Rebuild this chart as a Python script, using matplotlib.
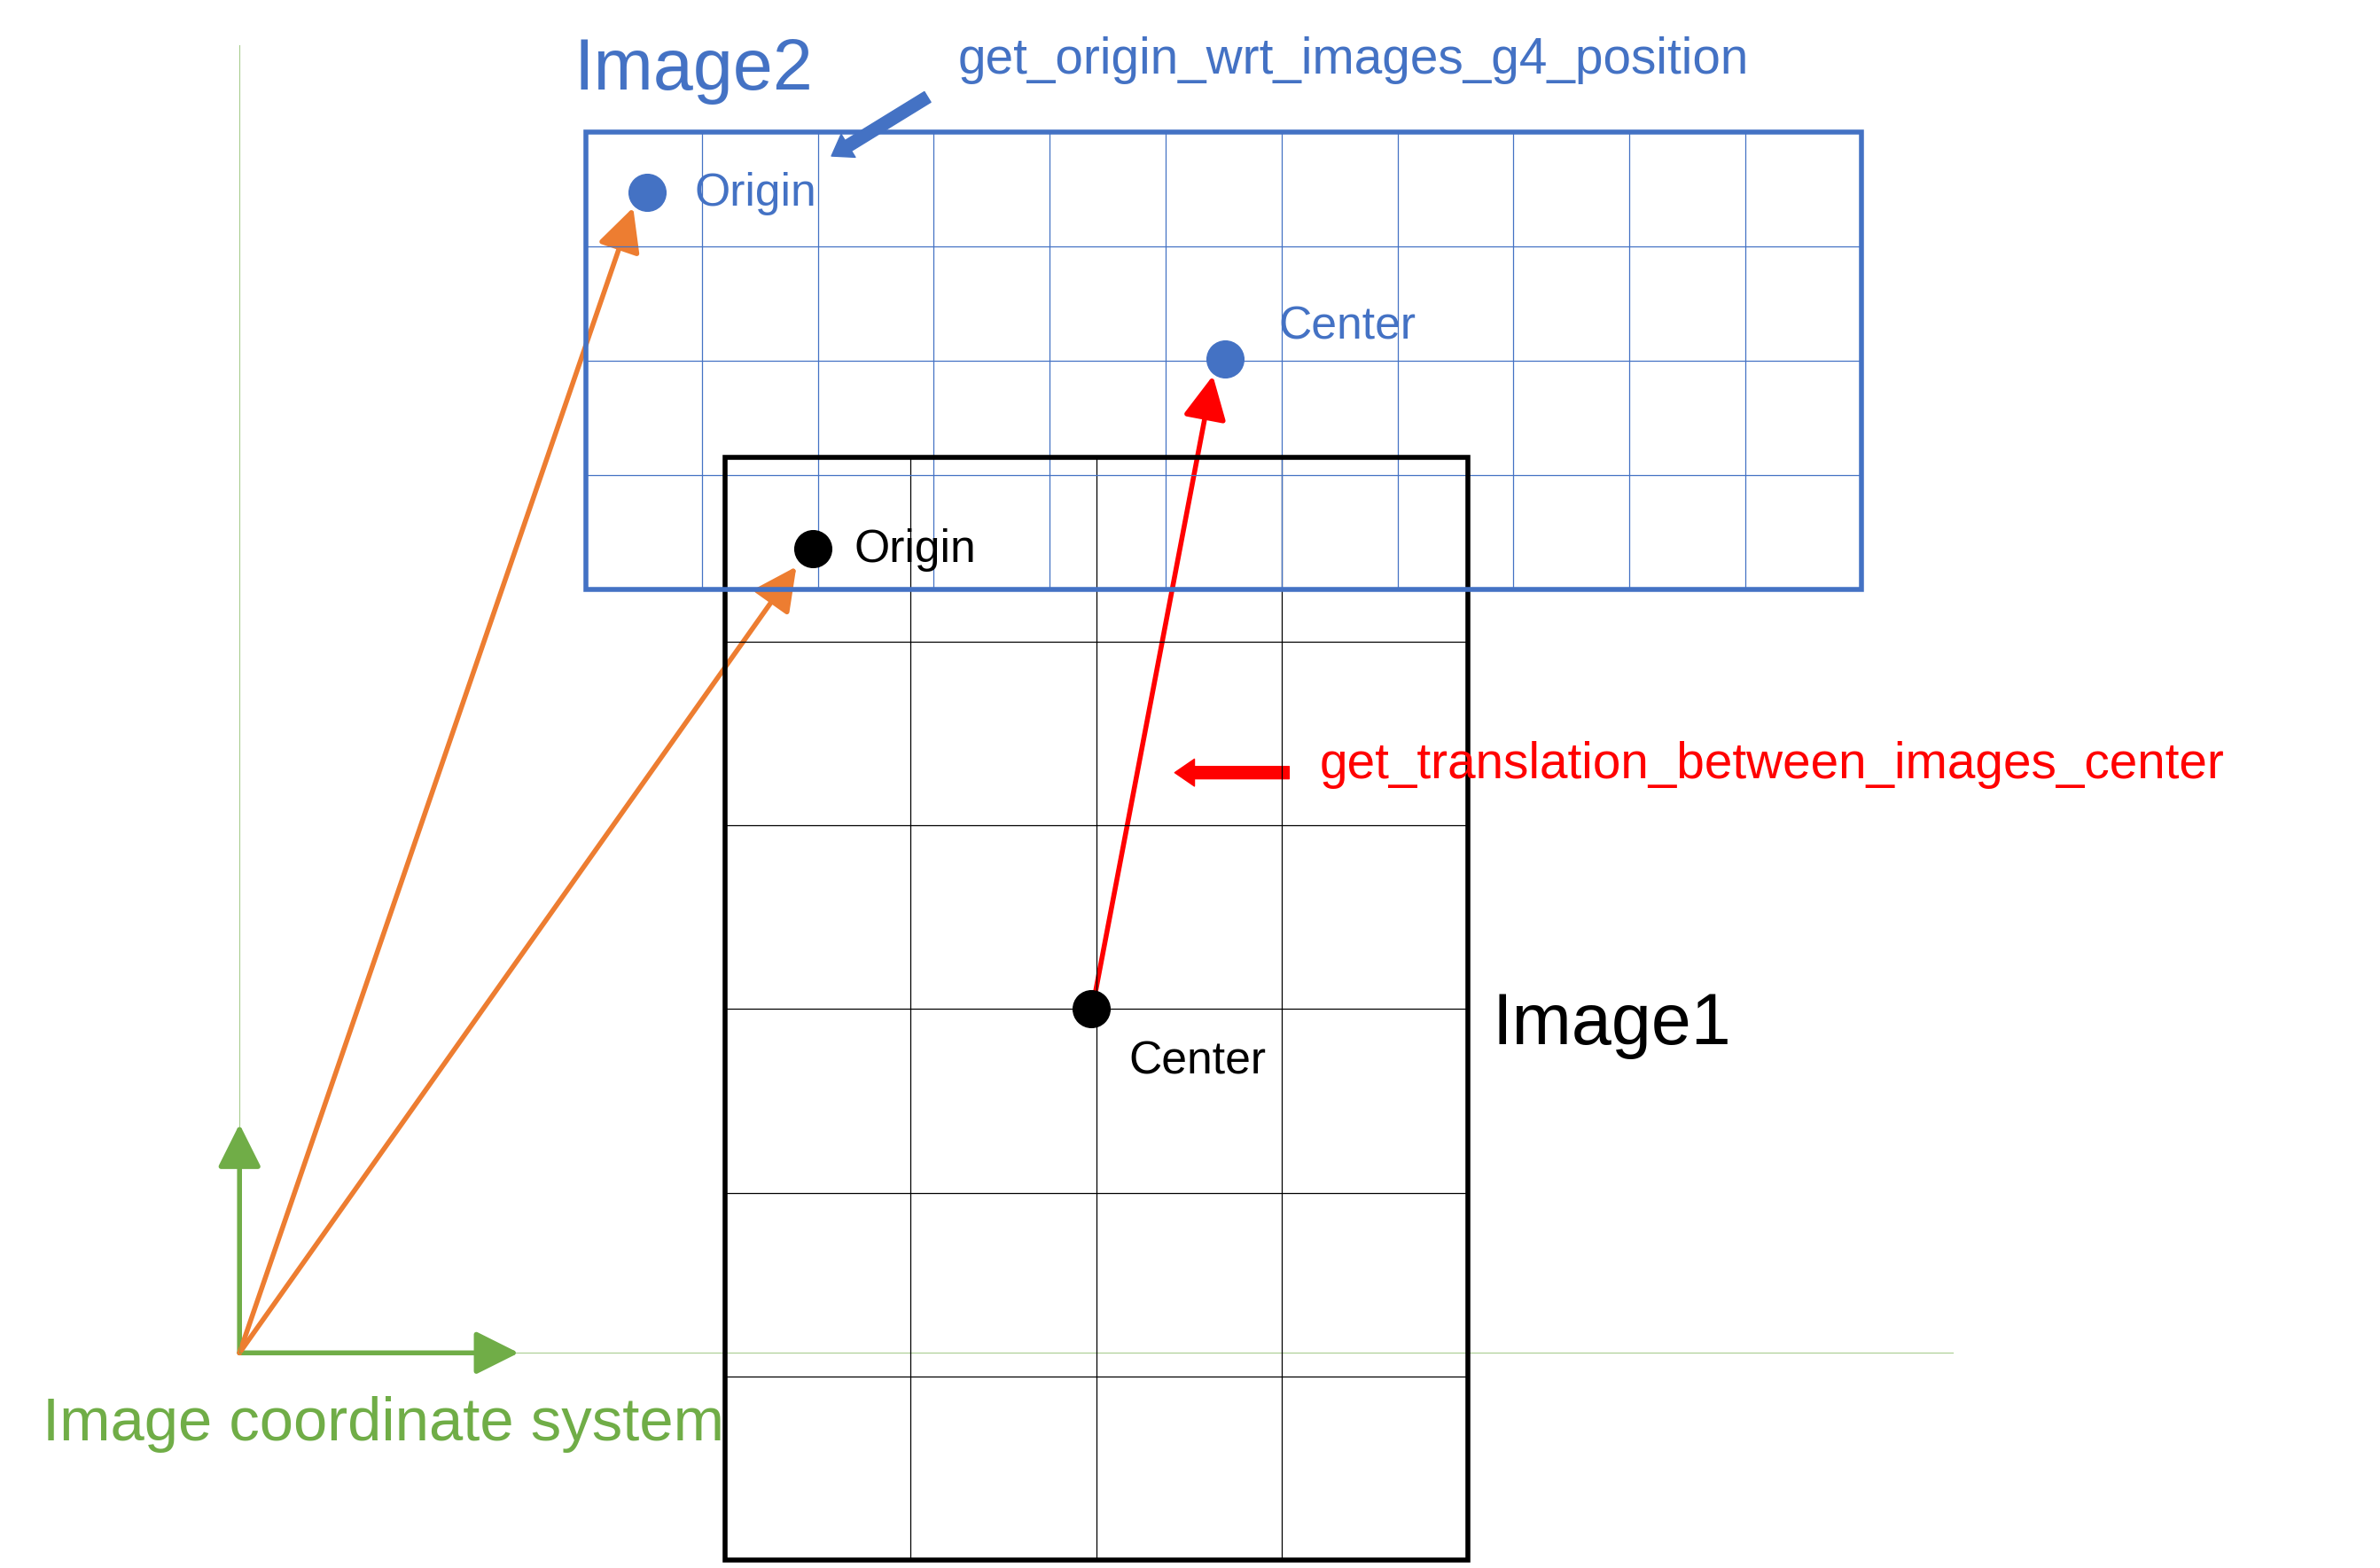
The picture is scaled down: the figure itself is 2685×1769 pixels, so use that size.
import matplotlib
matplotlib.use("Agg")
import matplotlib.pyplot as plt
from matplotlib.patches import Rectangle, FancyArrowPatch

plt.rcParams['font.family'] = ['Liberation Sans', 'DejaVu Sans']

# diagram layout, in pixels of a 1560 x 1035 canvas
W, H = 1560, 1035
origin = (157, 893)
frame_x_end = 1280
frame_y_top = 30

image2_box = (384, 87, 1220, 389)      # x0, y0, x1, y1
image2_cols = 11
image2_rows = 4
image1_box = (475, 302, 962, 1030)
image1_cols = 4
image1_rows = 6

image2_origin = (424, 127)
image2_center = (803, 237)
image1_origin = (533, 362)
image1_center = (715, 666)

BLUE = '#4472c4'
ORANGE = '#ed7d31'
GREEN = '#70ad47'
RED = '#ff0000'

S = 2685 / W


def fs(px):
    return px * S * 72 / 100


fig = plt.figure(figsize=(26.85, 17.69), dpi=100)
ax = fig.add_axes([0, 0, 1, 1])
ax.set_xlim(0, W)
ax.set_ylim(H, 0)
ax.axis('off')

# faint coordinate frame
ax.plot([origin[0], origin[0]], [frame_y_top, origin[1]], color=GREEN, lw=0.8, alpha=0.6)
ax.plot([origin[0], frame_x_end], [origin[1], origin[1]], color=GREEN, lw=0.8, alpha=0.6)


def arrow(p0, p1, color, lw, head=30, width=None):
    style = f'-|>,head_length={head/10},head_width={head/20}'
    ax.add_patch(FancyArrowPatch(p0, p1, arrowstyle=style, color=color,
                                 lw=lw, mutation_scale=10, shrinkA=0, shrinkB=0))


arrow(origin, (origin[0], 742), GREEN, 4)
arrow(origin, (340, origin[1]), GREEN, 4)
ax.text(28, 940, 'Image coordinate system', color=GREEN, fontsize=fs(40), va='center')


def grid_box(box, cols, rows, color, lw_box):
    x0, y0, x1, y1 = box
    dx = (x1 - x0) / cols
    dy = (y1 - y0) / rows
    for i in range(1, cols):
        ax.plot([x0 + i * dx] * 2, [y0, y1], color=color, lw=0.9)
    for j in range(1, rows):
        ax.plot([x0, x1], [y0 + j * dy] * 2, color=color, lw=0.9)
    ax.add_patch(Rectangle((x0, y0), x1 - x0, y1 - y0, fill=False,
                           edgecolor=color, lw=lw_box, zorder=3))


grid_box(image1_box, image1_cols, image1_rows, 'black', 4)
grid_box(image2_box, image2_cols, image2_rows, BLUE, 4)

# vectors
arrow(origin, (415, 137), ORANGE, 4)
arrow(origin, (522, 374), ORANGE, 4)
arrow((718, 655), (795, 248), RED, 4)

# points
for p, c in [(image2_origin, BLUE), (image2_center, BLUE),
             (image1_origin, 'black'), (image1_center, 'black')]:
    ax.plot(*p, 'o', color=c, markersize=30, zorder=5)

ax.text(455, 128, 'Origin', color=BLUE, fontsize=fs(30), va='center')
ax.text(838, 216, 'Center', color=BLUE, fontsize=fs(30), va='center')
ax.text(560, 363, 'Origin', color='black', fontsize=fs(30), va='center')
ax.text(740, 701, 'Center', color='black', fontsize=fs(30), va='center')
ax.text(376, 47, 'Image2', color=BLUE, fontsize=fs(47), va='center')
ax.text(978, 677, 'Image1', color='black', fontsize=fs(47), va='center')

# function callouts
ax.add_patch(FancyArrowPatch((845, 510), (770, 510),
                             arrowstyle='simple,head_length=1.6,head_width=2.2,tail_width=1.0',
                             color=RED, mutation_scale=10, shrinkA=0, shrinkB=0))
ax.text(865, 505, 'get_translation_between_images_center', color=RED,
        fontsize=fs(33), va='center')
ax.add_patch(FancyArrowPatch((608, 64), (545, 103),
                             arrowstyle='simple,head_length=1.6,head_width=2.2,tail_width=1.0',
                             color=BLUE, mutation_scale=10, shrinkA=0, shrinkB=0))
ax.text(628, 40, 'get_origin_wrt_images_g4_position', color=BLUE,
        fontsize=fs(33), va='center')

fig.savefig('out.png', dpi=100, facecolor='white')
